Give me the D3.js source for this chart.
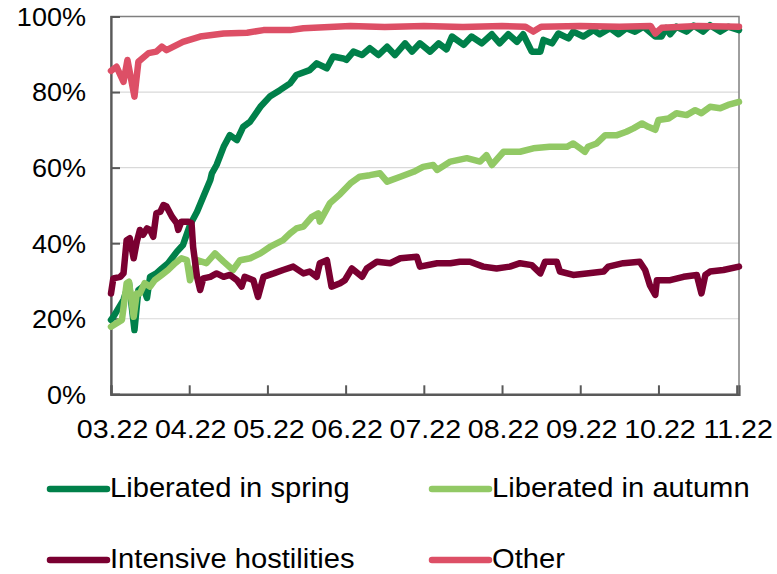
<!DOCTYPE html>
<html>
<head>
<meta charset="utf-8">
<script src="https://cdn.jsdelivr.net/npm/d3@7"></script>
<style>
  body { margin: 0; background: #fff; }
  svg { display: block; font-family: "Liberation Sans", Arial, sans-serif; }
</style>
</head>
<body>
<div id="chart"></div>
<script>
// month position (0 = 03.22) and share in %
const monthLabels = ["03.22", "04.22", "05.22", "06.22", "07.22", "08.22", "09.22", "10.22", "11.22"];
const yTicks = [0, 20, 40, 60, 80, 100];

const springData = [
  [0, 19.7], [0.03, 20.5], [0.16, 25], [0.23, 29.5], [0.30, 17], [0.35, 27.6], [0.41, 28.5], [0.46, 25.5],
  [0.50, 31.1], [0.58, 32], [0.65, 33.3], [0.73, 34.7], [0.84, 37.7], [0.92, 39.5], [1.01, 44.8], [1.10, 48.3],
  [1.18, 52.3], [1.27, 56.7], [1.29, 58.5], [1.35, 60.7], [1.44, 65.5], [1.52, 68.6], [1.61, 67.3], [1.69, 70.8],
  [1.78, 72.2], [1.91, 76.1], [2.03, 78.8], [2.16, 80.5], [2.29, 82.3], [2.37, 84.5], [2.54, 85.8], [2.63, 87.6],
  [2.76, 86.3], [2.84, 89.4], [2.97, 88.9], [3.01, 88.5], [3.10, 90.7], [3.21, 89.8], [3.31, 91.6], [3.42, 89.8],
  [3.53, 92], [3.63, 89.8], [3.76, 92.9], [3.85, 90.7], [3.95, 92.9], [4.08, 90.7], [4.19, 92.9], [4.29, 91.3],
  [4.36, 94.7], [4.51, 92.5], [4.61, 94.7], [4.74, 92.9], [4.87, 95.3], [4.97, 92.9], [5.08, 95.3], [5.19, 93.3],
  [5.27, 95.3], [5.38, 90.7], [5.49, 90.7], [5.53, 93.8], [5.64, 92.9], [5.72, 95.5], [5.85, 94.2], [5.91, 96],
  [6.04, 94.7], [6.17, 96.4], [6.25, 95.3], [6.38, 96.9], [6.49, 95.3], [6.59, 96.9], [6.70, 96], [6.81, 97.3],
  [6.96, 94.7], [7.04, 94.7], [7.10, 97], [7.15, 95.3], [7.23, 97.3], [7.36, 96], [7.45, 97.6], [7.57, 96],
  [7.66, 97.7], [7.79, 96], [7.89, 97.3], [8.03, 96.4]
];

const autumnData = [
  [0, 17.9], [0.14, 19.7], [0.20, 29.4], [0.23, 29.8], [0.29, 20.5], [0.33, 26.7], [0.37, 26.7], [0.43, 29.4],
  [0.50, 28.5], [0.56, 30.2], [0.65, 31.6], [0.73, 32.9], [0.82, 34.7], [0.90, 36], [0.97, 35.5], [1.01, 30.2],
  [1.10, 35.5], [1.22, 34.7], [1.33, 37.3], [1.44, 35.1], [1.56, 32.9], [1.65, 35.5], [1.78, 36], [1.91, 37.3],
  [2.03, 39], [2.20, 40.8], [2.29, 42.6], [2.37, 43.9], [2.46, 44.4], [2.57, 47], [2.65, 47.9], [2.67, 45.7],
  [2.80, 50.6], [2.93, 53], [3.06, 55.8], [3.18, 57.6], [3.31, 58], [3.44, 58.5], [3.53, 56.3], [3.70, 57.6],
  [3.87, 58.9], [3.99, 60.2], [4.12, 60.7], [4.17, 59.4], [4.34, 61.6], [4.55, 62.5], [4.72, 61.6], [4.80, 63.3],
  [4.87, 60.7], [5.02, 64.2], [5.23, 64.2], [5.40, 65.1], [5.61, 65.5], [5.83, 65.5], [5.91, 66.4], [6.00, 65.1],
  [6.06, 64.2], [6.10, 65.5], [6.21, 66.4], [6.32, 68.6], [6.47, 68.6], [6.59, 69.5], [6.68, 70.4], [6.79, 71.7],
  [6.87, 70.8], [6.96, 70], [7.00, 72.6], [7.13, 73], [7.23, 74.4], [7.36, 73.9], [7.47, 75.2], [7.55, 74.4],
  [7.66, 76.1], [7.79, 75.7], [7.89, 76.6], [8.03, 77.4]
];

const hostilitiesData = [
  [0, 26.7], [0.03, 30.7], [0.12, 31.1], [0.16, 32], [0.20, 40.8], [0.24, 41.3], [0.29, 36], [0.33, 40.4],
  [0.37, 43.5], [0.41, 42.2], [0.46, 43.9], [0.50, 43.5], [0.54, 41.7], [0.58, 47.9], [0.63, 48.3], [0.67, 50.1],
  [0.71, 49.7], [0.78, 47], [0.84, 45.3], [0.86, 43.5], [0.90, 45.7], [0.99, 45.7], [1.03, 45.3], [1.05, 39],
  [1.10, 31.1], [1.14, 27.6], [1.18, 30.7], [1.27, 31.1], [1.35, 32], [1.44, 31.1], [1.52, 31.6], [1.61, 30.2],
  [1.67, 28.5], [1.71, 31.1], [1.82, 30.2], [1.88, 25.8], [1.95, 31.1], [2.08, 32], [2.20, 32.9], [2.33, 33.8],
  [2.46, 32], [2.54, 32.5], [2.63, 31.1], [2.67, 34.7], [2.76, 35.5], [2.82, 28.5], [2.93, 29.4], [2.99, 30.2],
  [3.08, 33.3], [3.21, 31.1], [3.27, 33.3], [3.40, 35.1], [3.57, 34.7], [3.70, 36], [3.91, 36.4], [3.95, 33.8],
  [4.17, 34.7], [4.34, 34.7], [4.46, 35.1], [4.59, 35.1], [4.76, 33.8], [4.93, 33.3], [5.10, 33.8], [5.23, 34.7],
  [5.38, 34.2], [5.49, 32], [5.55, 35.1], [5.70, 35.1], [5.74, 32.5], [5.91, 31.6], [6.08, 32], [6.30, 32.5],
  [6.36, 33.8], [6.55, 34.7], [6.76, 35.1], [6.83, 32.9], [6.89, 28.9], [6.96, 26.3], [6.98, 30.2], [7.15, 30.2],
  [7.32, 31.1], [7.49, 31.6], [7.55, 26.7], [7.60, 31.6], [7.66, 32.5], [7.83, 32.9], [8.03, 33.8]
];

const otherData = [
  [0, 85.6], [0.07, 86.7], [0.16, 82.7], [0.21, 88.5], [0.30, 78.8], [0.35, 88], [0.48, 90.3], [0.58, 90.7],
  [0.65, 92], [0.71, 91.1], [0.92, 93.3], [1.14, 94.7], [1.44, 95.5], [1.74, 95.7], [1.95, 96.4], [2.29, 96.4],
  [2.46, 96.9], [3.06, 97.5], [3.5, 97.2], [4.0, 97.5], [4.5, 97.2], [5.0, 97.5], [5.3, 97.3], [5.40, 96],
  [5.5, 97.3], [6.0, 97.5], [6.5, 97.3], [6.9, 97.5], [6.96, 95.5], [7.04, 97], [7.5, 97.5], [8.03, 97.3]
];

const series = [
  { name: "Liberated in spring", color: "#00804a", values: springData },
  { name: "Liberated in autumn", color: "#92c965", values: autumnData },
  { name: "Intensive hostilities", color: "#7a0031", values: hostilitiesData },
  { name: "Other", color: "#dd4f66", values: otherData }
];

const width = 777, height = 574;
const plot = { left: 111, right: 739, top: 16.5, bottom: 394.3 };

const svg = d3.select("#chart").append("svg")
  .attr("width", width)
  .attr("height", height);

const x = d3.scaleLinear().domain([0, 8.03]).range([plot.left, plot.right]);
const y = d3.scaleLinear().domain([0, 100]).range([plot.bottom, plot.top]);

// gridlines
svg.append("g")
  .selectAll("line")
  .data(yTicks.filter(d => d > 0 && d < 100))
  .join("line")
  .attr("x1", plot.left).attr("x2", plot.right)
  .attr("y1", d => y(d)).attr("y2", d => y(d))
  .attr("stroke", "#d9d9d9")
  .attr("stroke-width", 1.2);

// frame
svg.append("rect")
  .attr("x", plot.left).attr("y", plot.top)
  .attr("width", plot.right - plot.left).attr("height", plot.bottom - plot.top)
  .attr("fill", "none")
  .attr("stroke", "#7f7f7f")
  .attr("stroke-width", 1.5);

// axes (ticks pointing inward, labels drawn separately)
const yAxis = svg.append("g")
  .attr("transform", `translate(${plot.left},0)`)
  .call(d3.axisRight(y).tickValues(yTicks).tickSize(9).tickFormat(""));
const xAxis = svg.append("g")
  .attr("transform", `translate(0,${plot.bottom})`)
  .call(d3.axisTop(x).tickValues(d3.range(monthLabels.length)).tickSize(9).tickFormat(""));

[yAxis, xAxis].forEach(a => {
  a.select(".domain").attr("stroke", "#595959").attr("stroke-width", 2.2);
  a.selectAll(".tick line").attr("stroke", "#595959").attr("stroke-width", 2);
});

// tick labels
svg.append("g")
  .selectAll("text")
  .data(yTicks)
  .join("text")
  .attr("transform", d => `translate(86,${y(d)}) scale(1.04,1)`)
  .attr("dy", "0.36em")
  .attr("text-anchor", "end")
  .attr("font-size", "26px")
  .attr("fill", "#000")
  .text(d => d + "%");

svg.append("g")
  .selectAll("text")
  .data(monthLabels)
  .join("text")
  .attr("transform", (d, i) => `translate(${x(i) + 1.5},438) scale(1.1,1)`)
  .attr("text-anchor", "middle")
  .attr("font-size", "26px")
  .attr("fill", "#000")
  .text(d => d);

// lines
const line = d3.line()
  .x(d => x(d[0]))
  .y(d => y(d[1]))
  .curve(d3.curveLinear);

svg.append("g")
  .selectAll("path")
  .data(series)
  .join("path")
  .attr("d", d => line(d.values))
  .attr("fill", "none")
  .attr("stroke", d => d.color)
  .attr("stroke-width", 6.5)
  .attr("stroke-linejoin", "round")
  .attr("stroke-linecap", "round");

// legend
const legendPos = [[50, 489], [432, 489], [50, 560], [432, 560]];
const legend = svg.append("g")
  .selectAll("g")
  .data(series)
  .join("g")
  .attr("transform", (d, i) => `translate(${legendPos[i][0]},${legendPos[i][1]})`);

legend.append("line")
  .attr("x1", 0).attr("x2", 57)
  .attr("stroke", d => d.color)
  .attr("stroke-width", 6.5)
  .attr("stroke-linecap", "round");

legend.append("text")
  .attr("transform", "translate(60,8) scale(1.06,1)")
  .attr("font-size", "27.5px")
  .attr("fill", "#000")
  .text(d => d.name);
</script>
</body>
</html>
